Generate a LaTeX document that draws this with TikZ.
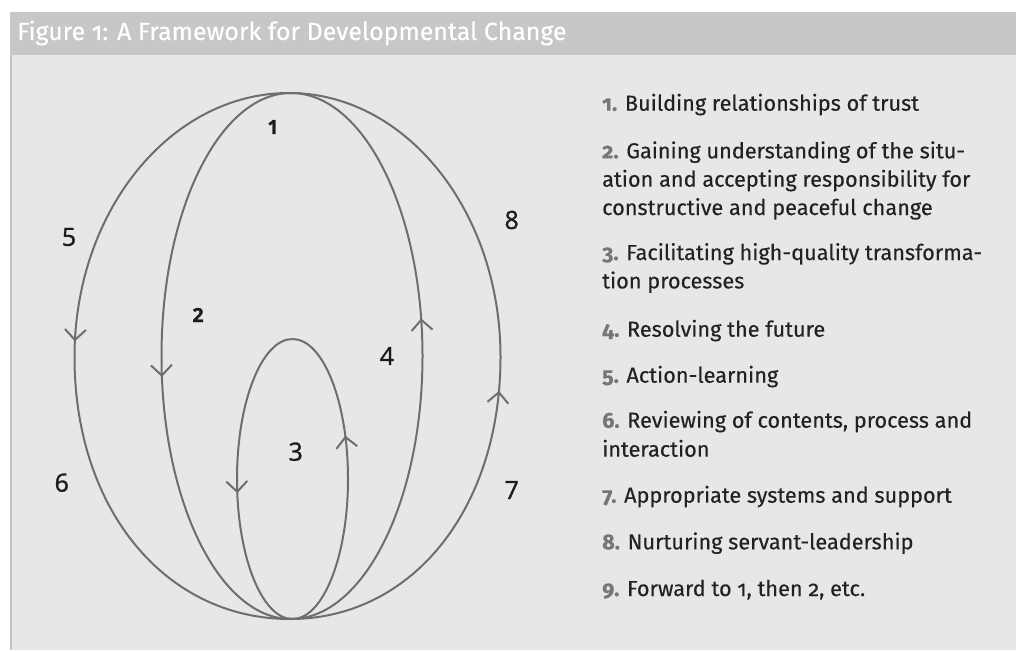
\documentclass[tikz,border=0pt]{standalone}
\usepackage{fontspec}
\setmainfont{Fira Sans}[Numbers=OldStyle, FakeBold=0.3]
\newfontfamily\labelfont{Open Sans}[FakeBold=1.2]
\usetikzlibrary{arrows.meta,decorations.markings}

\definecolor{headgray}{HTML}{C6C7C9}
\definecolor{bodygray}{HTML}{E6E7E9}
\definecolor{edgegray}{HTML}{C3C4C6}
\definecolor{curvegray}{HTML}{6E6E6E}
\definecolor{numgray}{HTML}{767676}
\definecolor{textdark}{HTML}{222222}
\definecolor{labeldark}{HTML}{1E1B1C}

\tikzset{
  curve/.style={draw=curvegray, line width=2pt},
  flow/.style={curve, postaction={decorate},
    decoration={markings, mark=at position #1 with
      {\arrow{Straight Barb[length=10.5pt, width=21pt]}}}},
  itemtext/.style={anchor=base west, inner sep=0pt,
    font=\fontsize{21.7}{28.4}\selectfont, text=textdark},
  biglabel/.style={font=\labelfont\fontsize{25}{30}\selectfont,
    text=labeldark, inner sep=0pt},
  smalllabel/.style={font=\labelfont\bfseries\fontsize{19.5}{24}\selectfont,
    text=labeldark, inner sep=0pt},
  titletext/.style={anchor=base west, inner sep=0pt,
    font=\fontsize{24.9}{28}\selectfont, text=white},
}
\newcommand\itemnum[1]{{\color{numgray}\bfseries #1.}}

\begin{document}
\begin{tikzpicture}[x=1pt, y=-1pt]
  \useasboundingbox (0,0) rectangle (1016,650);
  % panel and header bar
  \fill[bodygray] (10,55) rectangle (1016,650);
  \fill[headgray] (10,12) rectangle (1016,55);
  \draw[edgegray, line width=1.5pt] (10.75,55) -- (10.75,650);
  \node[titletext] (title) at (17,40) {Figure 1: A Framework for Developmental Change};

  % outer loop: left side runs down, right side runs up
  \coordinate (oT) at (289,93);
  \coordinate (oL) at (74.5,357);
  \coordinate (oB) at (290,619);
  \coordinate (oR) at (500.5,357);
  \draw[flow=0.478] (oT) .. controls (170.5,93) and (74.5,211.2) .. (oL)
    .. controls (74.5,509) and (165,619) .. (oB);
  \draw[flow=0.455] (oB) .. controls (412,619) and (500.5,509) .. (oR)
    .. controls (500.5,211.2) and (405.8,93) .. (oT);

  % middle loop
  \coordinate (mT) at (291,93);
  \coordinate (mL) at (161.5,356);
  \coordinate (mB) at (291,619);
  \coordinate (mR) at (422.5,356);
  \draw[flow=0.533] (mT) .. controls (219.5,93) and (161.5,210.7) .. (mL)
    .. controls (161.5,501.3) and (219.5,619) .. (mB);
  \draw[flow=0.559] (mB) .. controls (363.6,619) and (422.5,501.3) .. (mR)
    .. controls (422.5,210.7) and (363.6,93) .. (mT);

  % inner loop
  \coordinate (iT) at (292.5,339);
  \coordinate (iL) at (237,479);
  \coordinate (iB) at (292.5,619);
  \coordinate (iR) at (348,479);
  \draw[flow=0.544] (iT) .. controls (261.85,339) and (237,401.7) .. (iL)
    .. controls (237,556.3) and (261.85,619) .. (iB);
  \draw[flow=0.635] (iB) .. controls (323.15,619) and (348,556.3) .. (iR)
    .. controls (348,401.7) and (323.15,339) .. (iT);

  % stage numbers
  \node[smalllabel] (n1) at (273,127) {1};
  \node[smalllabel] (n2) at (198,315) {2};
  \node[biglabel] (n3) at (295.7,451.7) {3};
  \node[biglabel] (n4) at (387,356) {4};
  \node[biglabel] (n5) at (69,237) {5};
  \node[biglabel] (n6) at (61.7,482.7) {6};
  \node[biglabel] (n7) at (511.7,490) {7};
  \node[biglabel] (n8) at (511.7,220) {8};

  % legend
  \node[itemtext] (item1) at (602,110.7) {\itemnum{1} Building relationships of trust};
  \node[itemtext] (item2a) at (602,158.3) {\itemnum{2} Gaining understanding of the situ-};
  \node[itemtext] (item2b) at (602,186.7) {ation and accepting responsibility for};
  \node[itemtext] (item2c) at (602,215) {constructive and peaceful change};
  \node[itemtext] (item3a) at (602,260) {\itemnum{3} Facilitating high-quality transforma-};
  \node[itemtext] (item3b) at (602,288.4) {tion processes};
  \node[itemtext] (item4) at (602,336.7) {\itemnum{4} Resolving the future};
  \node[itemtext] (item5) at (602,382.7) {\itemnum{5} Action-learning};
  \node[itemtext] (item6a) at (602,427.7) {\itemnum{6} Reviewing of contents, process and};
  \node[itemtext] (item6b) at (602,456.7) {interaction};
  \node[itemtext] (item7) at (602,502.7) {\itemnum{7} Appropriate systems and support};
  \node[itemtext] (item8) at (602,549.3) {\itemnum{8} Nurturing servant-leadership};
  \node[itemtext] (item9) at (602,596) {\itemnum{9} Forward to 1, then 2, etc.};
\end{tikzpicture}
\end{document}
